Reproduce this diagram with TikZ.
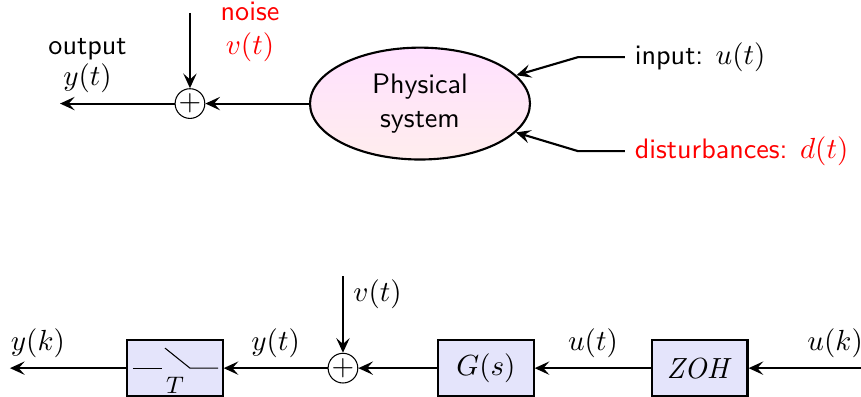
\documentclass[tikz,border=0pt]{standalone}
\usepackage{tikz}
\usetikzlibrary{
  positioning,
  arrows.meta,
  shapes.geometric
}
\usepackage{amsmath,amssymb}
\usepackage{xcolor}
\definecolor{blockfill}{HTML}{E4E4FB}

\begin{document}
\fontsize{10.6}{12.7}\selectfont
\begin{tikzpicture}[
  block/.style={draw, thick, fill=blockfill, minimum height=0.74cm, minimum width=1.26cm,
               inner sep=0pt},
  sum/.style={draw, circle, inner sep=0pt, minimum size=0.34cm},
  plant/.style={draw, thick, ellipse, minimum width=2.91cm, minimum height=1.48cm,
               top color=magenta!12, bottom color=red!7, align=center, font=\sffamily},
  lbl/.style={font=\sffamily, align=center},
  arr/.style={-{Stealth[length=5.5pt, width=5pt, inset=2.2pt]}, thick}
]
  \useasboundingbox (0,0) rectangle (11.39,5.24);

  % Top: continuous-time system
  \node[plant] (sys) at (5.556, 3.87) {Physical\\system};
  \node[sum] (sum1) at (2.513, 3.87) {$+$};
  \coordinate (noise1) at (2.513, 5.07);
  \coordinate (out1) at (0.794, 3.87);

  \draw[arr] (sys) -- (sum1);
  \draw[arr] (noise1) -- (sum1);
  \draw[arr] (sum1) -- (out1) node[pos=0.76, above, lbl] {output\\[-1pt]$y(t)$};
  \node[lbl, text=red] (noiselbl) at (3.307, 4.82) {noise\\$v(t)$};

  % Inputs into the system
  \coordinate (in) at (8.267, 4.484);
  \coordinate (inbend) at (7.646, 4.484);
  \coordinate (dist) at (8.267, 3.241);
  \coordinate (distbend) at (7.646, 3.241);

  \draw[arr] (in) -- (inbend) -- (sys);
  \draw[arr] (dist) -- (distbend) -- (sys);
  \node[lbl, right] (inlbl) at (in) {input: $u(t)$};
  \node[lbl, right, text=red] (distlbl) at (dist) {disturbances: $d(t)$};

  % Bottom: sampled-data loop
  \node[block] (zoh) at (9.259, 0.37) {$\mathit{ZOH}$};
  \node[block] (gs) at (6.429, 0.37) {$G(s)$};
  \node[sum] (sum2) at (4.537, 0.37) {$+$};
  \node[block] (samp) at (2.315, 0.37) {};
  \coordinate (uk) at (11.39, 0.37);
  \coordinate (yk) at (0.132, 0.37);
  \coordinate (noise2) at (4.537, 1.587);

  \draw[arr] (uk) -- (zoh) node[pos=0.23, above] {$u(k)$};
  \draw[arr] (zoh) -- (gs) node[midway, above] {$u(t)$};
  \draw[arr] (gs) -- (sum2);
  \draw[arr] (noise2) -- (sum2) node[pos=0.24, right] {$v(t)$};
  \draw[arr] (sum2) -- (samp) node[midway, above] {$y(t)$};
  \draw[arr] (samp) -- (yk) node[pos=0.76, above] {$y(k)$};

  % Switch inside the sampler
  \draw (samp.center) ++(-0.556, 0) -- ++(0.384, 0);
  \draw (samp.center) ++(-0.132, 0.265) -- ++(0.33, -0.265) -- ++(0.371, 0);
  \node[font=\small, anchor=base, inner sep=0pt] (samplbl)
    at ([yshift=-0.33cm]samp.center) {$T$};

\end{tikzpicture}
\end{document}
